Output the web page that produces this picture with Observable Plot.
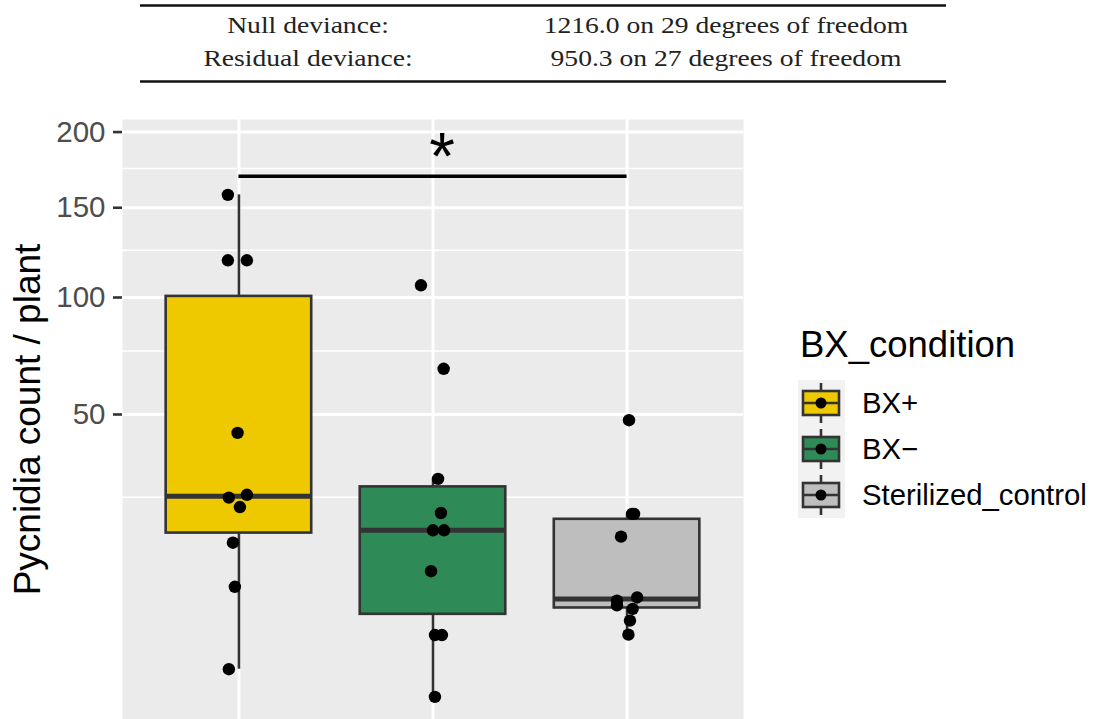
<!DOCTYPE html>
<html><head><meta charset="utf-8">
<script src="https://cdn.jsdelivr.net/npm/d3@7"></script>
<script src="https://cdn.jsdelivr.net/npm/@observablehq/plot@0.6"></script>
<style>
html,body{margin:0;padding:0;background:#fff;}
#wrap{position:relative;width:1093px;height:719px;overflow:hidden;}
#wrap svg{display:block;}
#legend{position:absolute;left:0;top:0;pointer-events:none;}
</style></head><body><div id="wrap"></div>
<script>
// ---- data ----
const devianceLabels = ["Null deviance:", "Residual deviance:"];
const devianceValues = ["1216.0 on 29 degrees of freedom", "950.3 on 27 degrees of freedom"];

const categories = ["BX+", "BX\u2212", "Sterilized_control"];
const fillColors = ["#EEC900", "#2E8B57", "#BEBEBE"];

const bxPlusValues  = [158, 119.5, 119.5, 43.7, 24.9, 25.6, 22.6, 14.9, 7.6, 0.48];
const bxPlusJitter  = [-0.057, -0.057, 0.041, -0.007, -0.052, 0.041, 0.005, -0.031, -0.021, -0.052];
const bxMinusValues = [106.2, 67.5, 29.8, 21.2, 17.4, 17.4, 9.9, 2.4, 2.4, 0];
const bxMinusJitter = [-0.062, 0.055, 0.026, 0.041, 0.0, 0.057, -0.010, 0.010, 0.046, 0.010];
const sterileValues = [48.0, 21.0, 21.0, 16.1, 6.2, 5.8, 5.25, 4.86, 3.65, 2.43];
const sterileJitter = [0.010, 0.026, 0.036, -0.031, 0.052, -0.052, -0.052, 0.029, 0.015, 0.007];

const majorBreaks = [50, 100, 150, 200];
const minorBreaks = [25, 75, 125, 175];

const sigFrom = "BX+", sigTo = "Sterilized_control", sigY = 170, sigLabel = "*";

const yTitle = "Pycnidia count / plant";
const legendTitle = "BX_condition";

// ---- derived ----
const groupValues = [bxPlusValues, bxMinusValues, sterileValues];
const groupJitter = [bxPlusJitter, bxMinusJitter, sterileJitter];
const points = [];
groupValues.forEach((vals, gi) => vals.forEach((v, j) =>
  points.push({group: categories[gi], pos: gi + 1, jit: groupJitter[gi][j], value: v})));
const stats = categories.map((c, gi) => {
  const v = d3.sort(groupValues[gi]);
  const q1 = d3.quantile(v, 0.25), med = d3.quantile(v, 0.5), q3 = d3.quantile(v, 0.75), iqr = q3 - q1;
  const lo = d3.min(v.filter(d => d >= q1 - 1.5 * iqr));
  const hi = d3.max(v.filter(d => d <= q3 + 1.5 * iqr));
  return {group: c, pos: gi + 1, q1, med, q3, lo, hi};
});
const sig = [{from: categories.indexOf(sigFrom) + 1, to: categories.indexOf(sigTo) + 1, y: sigY, label: sigLabel}];
const half = 0.375;
const dark = "#333333";
const sans = "'Liberation Sans', Arial, Helvetica, sans-serif";

const wrap = document.getElementById("wrap");

// ---- deviance table (above the plot) ----
const table = d3.create("svg").attr("width", 1093).attr("height", 95);
table.append("line").attr("x1", 140).attr("x2", 946).attr("y1", 5.5).attr("y2", 5.5)
  .attr("stroke", "#111").attr("stroke-width", 2.4);
table.append("line").attr("x1", 140).attr("x2", 946).attr("y1", 81.5).attr("y2", 81.5)
  .attr("stroke", "#111").attr("stroke-width", 2.4);
devianceLabels.forEach((lab, i) => {
  const y = 32.5 + i * 33.3;
  table.append("text").attr("transform", `translate(308,${y}) scale(1.2,1)`)
    .attr("text-anchor", "middle").attr("font-family", "'Liberation Serif', serif")
    .attr("font-size", 23).attr("fill", "#222").text(lab);
  table.append("text").attr("transform", `translate(726,${y}) scale(1.2,1)`)
    .attr("text-anchor", "middle").attr("font-family", "'Liberation Serif', serif")
    .attr("font-size", 23).attr("fill", "#222").text(devianceValues[i]);
});
wrap.appendChild(table.node());

// ---- main chart ----
const chart = Plot.plot({
  width: 1093, height: 624,
  marginTop: 24, marginBottom: 0, marginLeft: 122, marginRight: 350,
  style: {fontFamily: sans, background: "transparent", overflow: "visible"},
  x: {type: "linear", domain: [0.4, 3.6], axis: null},
  y: {type: "sqrt", domain: [-0.32, 209], axis: null},
  color: {domain: categories, range: fillColors},
  marks: [
    Plot.frame({fill: "#EBEBEB", stroke: "none"}),
    Plot.ruleY(minorBreaks, {stroke: "white", strokeWidth: 1.5}),
    Plot.ruleY(majorBreaks, {stroke: "white", strokeWidth: 3}),
    Plot.ruleX(stats, {x: "pos", stroke: "white", strokeWidth: 3}),
    Plot.ruleX(stats, {x: "pos", y1: "lo", y2: "q1", stroke: dark, strokeWidth: 2.6}),
    Plot.ruleX(stats, {x: "pos", y1: "q3", y2: "hi", stroke: dark, strokeWidth: 2.6}),
    Plot.rect(stats, {x1: d => d.pos - half, x2: d => d.pos + half, y1: "q1", y2: "q3",
      fill: "group", stroke: dark, strokeWidth: 2.6}),
    Plot.ruleY(stats, {y: "med", x1: d => d.pos - half, x2: d => d.pos + half, stroke: dark, strokeWidth: 5}),
    Plot.dot(points, {x: d => d.pos + d.jit, y: "value", r: 6.2, fill: "black", stroke: "none"}),
    Plot.ruleY(sig, {y: "y", x1: "from", x2: "to", stroke: "black", strokeWidth: 3.5}),
    Plot.text(sig, {x: d => (d.from + d.to) / 2, y: "y", text: "label", fontSize: 66,
      lineAnchor: "bottom", dx: 9, dy: 3, fill: "black"}),
    Plot.axisY(majorBreaks, {tickSize: 9, tickPadding: 8, stroke: dark, strokeWidth: 2.6,
      fill: "#4D4D4D", fontSize: 29.5, label: null}),
    Plot.text([yTitle], {frameAnchor: "left", textAnchor: "middle", rotate: -90, dx: -83,
      lineAnchor: "bottom", fontSize: 37, fill: "black", text: d => d})
  ]
});
wrap.appendChild(chart);

// ---- legend ----
const color = chart.scale("color");
const lg = d3.create("svg").attr("id", "legend").attr("width", 1093).attr("height", 719)
  .style("font-family", sans);
lg.append("text").attr("x", 800).attr("y", 357).attr("font-size", 36.5).attr("fill", "black").text(legendTitle);
lg.append("rect").attr("x", 798).attr("y", 380).attr("width", 47).attr("height", 138).attr("fill", "#F2F2F2");
color.domain.forEach((cat, k) => {
  const cy = 403 + 46 * k;
  lg.append("line").attr("x1", 821).attr("x2", 821).attr("y1", cy - 20).attr("y2", cy + 20)
    .attr("stroke", dark).attr("stroke-width", 2.6);
  lg.append("rect").attr("x", 803).attr("y", cy - 12).attr("width", 36).attr("height", 24)
    .attr("fill", color.apply(cat)).attr("stroke", dark).attr("stroke-width", 2.6);
  lg.append("line").attr("x1", 803).attr("x2", 839).attr("y1", cy).attr("y2", cy)
    .attr("stroke", dark).attr("stroke-width", 2.6);
  lg.append("circle").attr("cx", 821).attr("cy", cy).attr("r", 5.5).attr("fill", "black");
  lg.append("text").attr("x", 862).attr("y", cy + 10).attr("font-size", 29.3).attr("fill", "black").text(cat);
});
wrap.appendChild(lg.node());
</script></body></html>
